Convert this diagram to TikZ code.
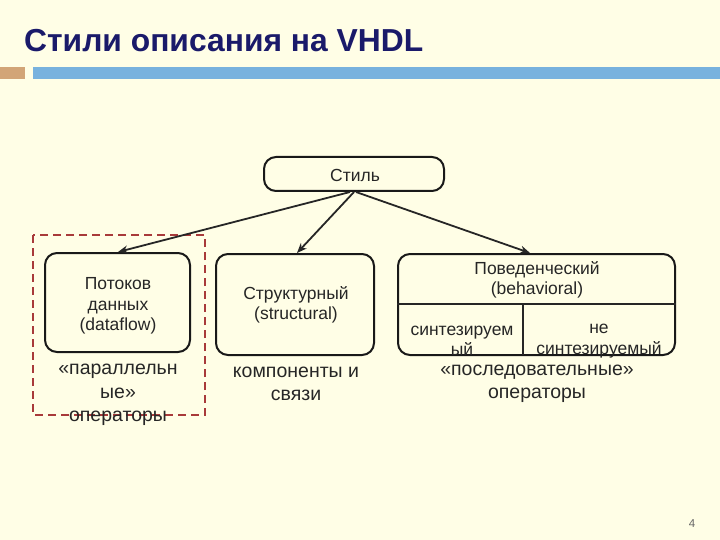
\documentclass[tikz,border=0pt]{standalone}
\usepackage{fontspec}
\setmainfont{Liberation Sans}
\usetikzlibrary{arrows.meta}
\definecolor{bg}{HTML}{FFFEE6}
\definecolor{titlec}{HTML}{1A1A6A}
\definecolor{tan}{HTML}{D2A577}
\definecolor{barblue}{HTML}{78B2DE}
\definecolor{dashred}{HTML}{A83A3A}
\definecolor{txt}{HTML}{262626}
\begin{document}
\begin{tikzpicture}[x=1pt,y=-1pt,
  box/.style={draw=black!90, line width=2pt, rounded corners=12pt, inner sep=0pt},
  boxtext/.style={text=txt, align=center, font=\fontsize{17.5}{20.5}\selectfont, inner sep=0pt},
  undertext/.style={text=txt, align=center, font=\fontsize{19.5}{23.5}\selectfont, inner sep=0pt},
  conn/.style={draw=black!85, line width=1.8pt, -{Stealth[length=10pt,width=8pt]}}]
\fill[bg] (0,0) rectangle (720,540);
\useasboundingbox (0,0) rectangle (720,540);
% title and bars
\node[anchor=base west, inner sep=0pt, text=titlec, font=\fontsize{31.8}{36}\bfseries] (title) at (24,52) {Стили описания на VHDL};
\fill[tan] (0,67) rectangle (25,79);
\fill[barblue] (33,67) rectangle (720,79);
% boxes
\node[box, minimum width=180pt, minimum height=34pt] (stil) at (354,174) {};
\node[boxtext] (stilt) at (355,175) {Стиль};
\node[box, minimum width=145pt, minimum height=99pt] (df) at (117.5,302.5) {};
\node[box, minimum width=158pt, minimum height=101pt] (st) at (295,304.5) {};
\node[box, minimum width=277pt, minimum height=101pt] (bh) at (536.5,304.5) {};
\coordinate (hl) at (bh.west |- 0,304);
\coordinate (hr) at (bh.east |- 0,304);
\draw[line width=1.3pt, black!85] (hl) -- (hr);
\coordinate (vt) at (523,304);
\coordinate (vb) at (523,355);
\draw[line width=1.3pt, black!85] (vt) -- (vb);
% dashed frame
\draw[dashred, line width=1.7pt, dash pattern=on 8pt off 5pt] (33,235) rectangle (205,415);
% texts in boxes
\node[boxtext] (dft) at (118,306) {Потоков\\данных\\(dataflow)};
\node[boxtext] (stt) at (296,305) {Структурный\\(structural)};
\node[boxtext] (bht) at (537,280) {Поведенческий\\(behavioral)};
\node[boxtext] (syn) at (462,341) {синтезируем\\ый};
\node[boxtext] (nsyn) at (599,341) {не\\синтезируемый};
% texts under boxes
\node[undertext] (dfu) at (118,395) {«параллельн\\ые»\\операторы};
\node[undertext] (stu) at (296,384) {компоненты и\\связи};
\node[undertext] (bhu) at (537,384) {«последовательные»\\операторы};
% connectors
\draw[conn] ([xshift=-4pt]stil.south) -- ([xshift=0.5pt]df.north);
\draw[conn] ([xshift=0pt]stil.south) -- ([xshift=2pt]st.north);
\draw[conn] ([xshift=2pt]stil.south) -- ([xshift=-6.5pt]bh.north);
% page number
\node[text=black!60, font=\fontsize{11.5}{13}\selectfont, inner sep=0pt] (pg) at (692,524) {4};
\end{tikzpicture}
\end{document}
